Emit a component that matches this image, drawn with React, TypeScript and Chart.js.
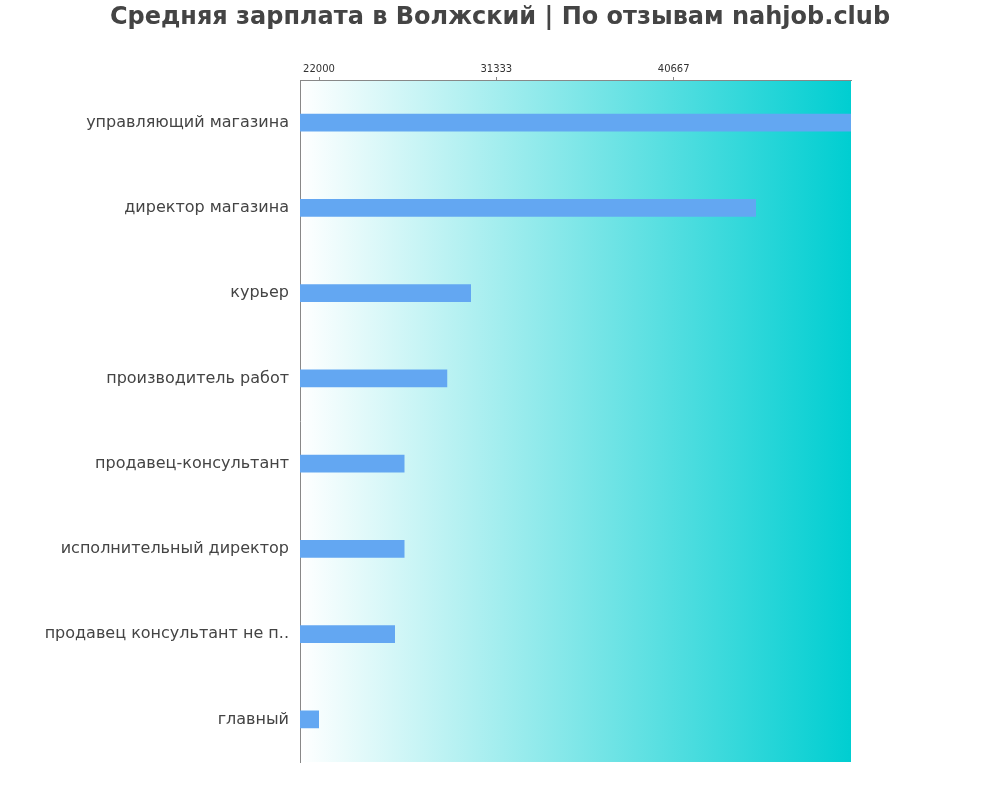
import React, { useRef, useEffect } from 'react';
import { Chart, registerables, Plugin } from 'chart.js';

Chart.register(...registerables);

const TITLE = 'Средняя зарплата в Волжский | По отзывам nahjob.club';

const professions = [
    'управляющий магазина',
    'директор магазина',
    'курьер',
    'производитель работ',
    'продавец-консультант',
    'исполнительный директор',
    'продавец консультант не п..',
    'главный',
];

const salaries = [50000, 45000, 30000, 28750, 26500, 26500, 26000, 22000];

const tickValues = [22000, 31333, 40667];

const AXIS_MIN = 21000;
const AXIS_MAX = 50000;

// paints the white -> turquoise gradient behind the axes and bars
const gradientBackground: Plugin<'bar'> = {
    id: 'gradientBackground',
    beforeDraw(chart) {
        const { ctx, chartArea } = chart;
        if (!chartArea) return;
        const g = ctx.createLinearGradient(chartArea.left, 0, chartArea.right, 0);
        g.addColorStop(0, 'rgba(255,255,255,1)');
        g.addColorStop(1, 'rgba(0,206,209,1)');
        ctx.save();
        ctx.fillStyle = g;
        ctx.fillRect(chartArea.left, chartArea.top, chartArea.right - chartArea.left, chartArea.bottom - chartArea.top);
        ctx.restore();
    },
};

const SalaryChart = () => {
    const chartRef = useRef<HTMLCanvasElement>(null);
    const chartInstance = useRef<Chart | null>(null);

    useEffect(() => {
        if (!chartRef.current) return;
        const ctx = chartRef.current.getContext('2d');
        if (!ctx) return;

        if (chartInstance.current) {
            chartInstance.current.destroy();
        }

        chartInstance.current = new Chart(ctx, {
            type: 'bar',
            data: {
                labels: professions,
                datasets: [{
                    data: salaries,
                    backgroundColor: '#63a7f2',
                    borderWidth: 0,
                    barPercentage: 0.21,
                    categoryPercentage: 1,
                }],
            },
            options: {
                indexAxis: 'y',
                responsive: true,
                maintainAspectRatio: false,
                animation: false,
                layout: {
                    padding: { left: 0, right: 0, top: 3, bottom: 38 },
                },
                scales: {
                    x: {
                        position: 'top',
                        min: AXIS_MIN,
                        max: AXIS_MAX,
                        afterBuildTicks: (scale) => {
                            scale.ticks = tickValues.map(v => ({ value: v }));
                        },
                        afterFit: (scale) => {
                            scale.height = 38.2;
                        },
                        grid: {
                            drawOnChartArea: false,
                            drawTicks: true,
                            tickLength: 3,
                            color: '#888888',
                        },
                        border: { display: true, color: '#888888' },
                        ticks: {
                            color: '#333333',
                            padding: 2,
                            maxRotation: 0,
                            font: { family: 'DejaVu Sans', size: 10 },
                            callback: (value) => String(value),
                        },
                    },
                    y: {
                        afterFit: (scale) => {
                            scale.width = 300;
                        },
                        grid: { display: true, drawOnChartArea: false, drawTicks: false },
                        border: { display: true, color: '#888888' },
                        ticks: {
                            color: '#444444',
                            padding: 11,
                            font: { family: 'DejaVu Sans', size: 16 },
                        },
                    },
                    // empty right-hand axis keeping the blank strip right of the plot
                    spacer: {
                        type: 'category',
                        axis: 'y',
                        position: 'right',
                        labels: [''],
                        afterFit: (scale) => {
                            scale.width = 149;
                        },
                        grid: { display: false },
                        border: { display: false },
                        ticks: { display: false },
                    },
                },
                plugins: {
                    legend: { display: false },
                    tooltip: { enabled: false },
                    title: {
                        display: true,
                        text: TITLE,
                        color: '#444444',
                        font: { family: 'DejaVu Sans', size: 24, weight: 'bold' },
                        padding: { top: 0, bottom: 10 },
                    },
                },
            },
            plugins: [gradientBackground],
        });

        return () => {
            if (chartInstance.current) {
                chartInstance.current.destroy();
                chartInstance.current = null;
            }
        };
    }, []);

    return (
        <div style={{ position: 'relative', width: '1000px', height: '800px' }}>
            <canvas ref={chartRef}></canvas>
        </div>
    );
};

export default function App() {
    useEffect(() => {
        document.body.style.margin = '0';
    }, []);
    return <SalaryChart />;
}
